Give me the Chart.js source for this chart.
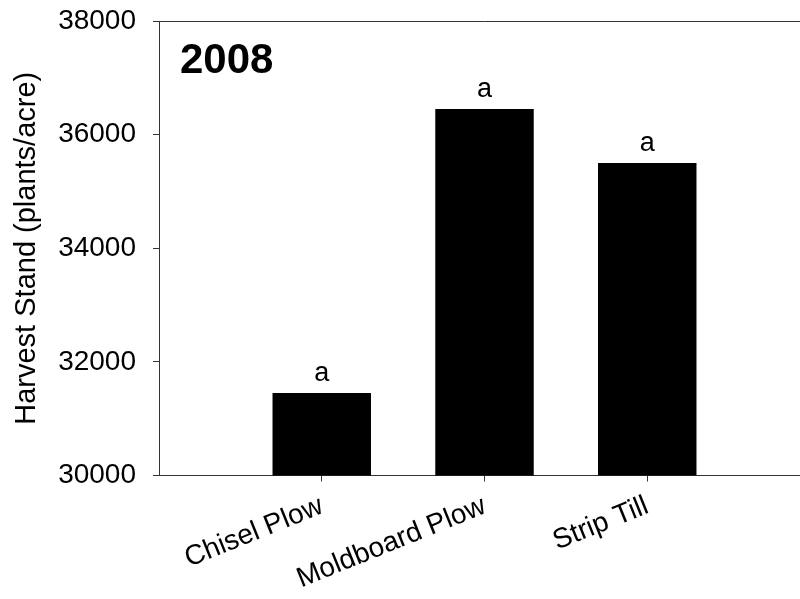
<!DOCTYPE html>
<html>
<head>
<meta charset="utf-8">
<script src="https://cdn.jsdelivr.net/npm/chart.js@4.4.1/dist/chart.umd.min.js"></script>
<style>
  html, body { margin: 0; padding: 0; background: #fff; overflow: hidden; }
  #wrap { position: relative; width: 810px; height: 599px; }
</style>
</head>
<body>
<div id="wrap"><canvas id="c" width="810" height="599"></canvas></div>
<script>
// Harvest stand by tillage system, 2008
const categories = ['Chisel Plow', 'Moldboard Plow', 'Strip Till'];
const harvestStand = [31450, 36450, 35500];
const letters = ['a', 'a', 'a'];
const yTicks = [30000, 32000, 34000, 36000, 38000];
const yearLabel = '2008';
const yTitle = 'Harvest Stand (plants/acre)';

// blank slots at both ends keep the bars spaced on a 0..4 axis
const labels = ['', ...categories, ''];
const values = [null, ...harvestStand, null];

const FONT = '"Liberation Sans", Arial, Helvetica, sans-serif';
const AXIS = '#333';

Chart.defaults.font.family = FONT;
Chart.defaults.color = '#000';

const annotate = {
  id: 'annotate',
  afterDatasetsDraw(chart) {
    const { ctx, chartArea } = chart;
    ctx.save();
    // top frame line
    ctx.strokeStyle = AXIS;
    ctx.lineWidth = 1;
    const ty = Math.floor(chartArea.top) + 0.5;
    ctx.beginPath();
    ctx.moveTo(chartArea.left, ty);
    ctx.lineTo(chartArea.right, ty);
    ctx.stroke();

    // significance letters above bars
    const meta = chart.getDatasetMeta(0);
    ctx.fillStyle = '#000';
    ctx.font = '27px ' + FONT;
    ctx.textAlign = 'center';
    ctx.textBaseline = 'alphabetic';
    categories.forEach((c, i) => {
      const bar = meta.data[i + 1];
      ctx.fillText(letters[i], bar.x, bar.y - 12);
    });

    // year label
    ctx.font = 'bold 42px ' + FONT;
    ctx.textAlign = 'left';
    ctx.fillText(yearLabel, chartArea.left + 21, chartArea.top + 51.5);
    ctx.restore();
  }
};

new Chart(document.getElementById('c'), {
  type: 'bar',
  data: {
    labels: labels,
    datasets: [{
      data: values,
      backgroundColor: '#000',
      borderWidth: 0,
      barPercentage: 0.605,
      categoryPercentage: 1
    }]
  },
  options: {
    responsive: false,
    animation: false,
    devicePixelRatio: 1,
    layout: { padding: { top: 21, right: 0, bottom: 0, left: 0 } },
    plugins: { legend: { display: false }, tooltip: { enabled: false } },
    scales: {
      x: {
        offset: false,
        grid: {
          offset: false,
          drawOnChartArea: false,
          drawTicks: true,
          tickLength: 6,
          tickColor: (c) => (c.tick && c.tick.label) ? AXIS : 'rgba(0,0,0,0)'
        },
        border: { display: true, color: AXIS, width: 1 },
        ticks: {
          autoSkip: false,
          maxRotation: 22,
          minRotation: 22,
          padding: 8,
          color: '#000',
          font: { size: 28 }
        },
        afterFit: (s) => {
          s.height = 123.5;
          s.paddingLeft = 0;
          s.paddingRight = 0;
        }
      },
      y: {
        min: 30000,
        max: 38000,
        afterBuildTicks: (s) => { s.ticks = yTicks.map(v => ({ value: v })); },
        grid: {
          drawOnChartArea: false,
          drawTicks: true,
          tickLength: 6,
          tickColor: AXIS
        },
        border: { display: true, color: AXIS, width: 1 },
        ticks: {
          padding: 17,
          color: '#000',
          font: { size: 28 },
          callback: (v) => String(v)
        },
        title: {
          display: true,
          text: yTitle,
          color: '#000',
          font: { size: 29 },
          padding: { top: 10, bottom: 0 }
        },
        afterFit: (s) => {
          s.width = 159;
          s.paddingTop = 0;
          s.paddingBottom = 0;
        }
      }
    }
  },
  plugins: [annotate]
});
</script>
</body>
</html>
